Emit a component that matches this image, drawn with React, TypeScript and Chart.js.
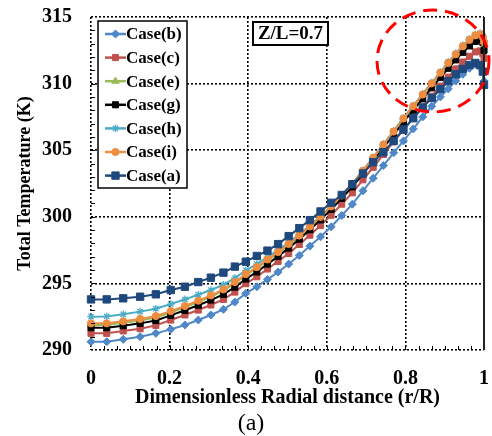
import React, { useEffect, useRef } from 'react';
import { Chart, registerables } from 'chart.js';
import { drawPoint } from 'chart.js/helpers';

Chart.register(...registerables);

// Dimensionless radial positions (r/R) of the plotted mesh points
const radialPositions = [
  0, 0.040, 0.082, 0.125, 0.165, 0.203, 0.239, 0.273, 0.305, 0.337,
  0.366, 0.394, 0.422, 0.449, 0.476, 0.503, 0.530, 0.557, 0.584, 0.611,
  0.638, 0.665, 0.692, 0.718, 0.744, 0.770, 0.795, 0.820, 0.844, 0.867,
  0.889, 0.909, 0.928, 0.946, 0.963, 0.978, 0.990, 0.997, 1.0,
];

const caseB = [
  290.62, 290.62, 290.80, 291.00, 291.25, 291.55, 291.88, 292.25, 292.63, 293.05,
  293.60, 294.25, 294.75, 295.30, 295.85, 296.45, 297.10, 297.80, 298.50, 299.25,
  300.10, 300.95, 301.95, 302.90, 303.85, 304.80, 305.70, 306.60, 307.50, 308.30,
  309.00, 309.60, 310.20, 310.70, 311.15, 311.45, 311.40, 311.00, 310.20,
];

const caseC = [
  291.25, 291.25, 291.43, 291.60, 291.85, 292.25, 292.63, 293.00, 293.38, 293.80,
  294.35, 294.98, 295.50, 296.08, 296.65, 297.25, 297.92, 298.62, 299.35, 300.12,
  300.95, 301.80, 302.78, 303.72, 304.68, 305.62, 306.52, 307.42, 308.25, 309.05,
  309.80, 310.48, 311.10, 311.62, 312.05, 312.38, 312.45, 312.25, 311.90,
];

const caseE = [
  291.88, 291.88, 292.04, 292.22, 292.44, 292.82, 293.20, 293.60, 294.00, 294.45,
  295.00, 295.60, 296.12, 296.70, 297.26, 297.86, 298.50, 299.18, 299.90, 300.68,
  301.50, 302.37, 303.35, 304.33, 305.32, 306.30, 307.28, 308.20, 309.08, 309.92,
  310.72, 311.45, 312.10, 312.70, 313.18, 313.52, 313.60, 313.38, 312.95,
];

const caseG = [
  291.67, 291.67, 291.82, 292.00, 292.22, 292.60, 292.98, 293.36, 293.75, 294.18,
  294.72, 295.33, 295.86, 296.45, 297.03, 297.65, 298.32, 299.03, 299.77, 300.55,
  301.38, 302.25, 303.23, 304.20, 305.18, 306.15, 307.10, 308.00, 308.85, 309.68,
  310.45, 311.15, 311.78, 312.35, 312.83, 313.17, 313.30, 313.10, 312.50,
];

const caseH = [
  292.50, 292.52, 292.68, 292.88, 293.10, 293.45, 293.80, 294.15, 294.50, 294.90,
  295.40, 295.98, 296.45, 296.98, 297.50, 298.07, 298.68, 299.34, 300.04, 300.80,
  301.63, 302.50, 303.48, 304.47, 305.46, 306.45, 307.43, 308.35, 309.23, 310.07,
  310.87, 311.61, 312.27, 312.87, 313.35, 313.69, 313.78, 313.60, 313.20,
];

const caseI = [
  292.00, 292.00, 292.15, 292.33, 292.55, 292.92, 293.30, 293.70, 294.10, 294.55,
  295.10, 295.70, 296.22, 296.80, 297.36, 297.96, 298.60, 299.28, 300.00, 300.78,
  301.60, 302.47, 303.45, 304.43, 305.42, 306.40, 307.38, 308.30, 309.18, 310.02,
  310.82, 311.55, 312.20, 312.80, 313.28, 313.62, 313.70, 313.50, 313.10,
];

const caseA = [
  293.80, 293.80, 293.88, 294.00, 294.18, 294.50, 294.75, 295.10, 295.43, 295.81,
  296.26, 296.63, 297.06, 297.46, 297.95, 298.55, 299.15, 299.75, 300.40, 301.05,
  301.64, 302.45, 303.25, 304.10, 304.85, 305.70, 306.55, 307.40, 308.20, 308.92,
  309.58, 310.18, 310.70, 311.10, 311.40, 311.55, 311.38, 310.90, 309.90,
];

const seriesNames = ['Case(b)', 'Case(c)', 'Case(e)', 'Case(g)', 'Case(h)', 'Case(i)', 'Case(a)'];
const seriesValues = [caseB, caseC, caseE, caseG, caseH, caseI, caseA];

const xTickLabels = ['0', '0.2', '0.4', '0.6', '0.8', '1'];
const yTickLabels = ['290', '295', '300', '305', '310', '315'];

const annotationText = 'Z/L=0.7';
const xTitle = 'Dimensionless Radial distance (r/R)';
const yTitle = 'Total Temperature (K)';
const panelLabel = '(a)';

const seriesStyles = [
  { color: '#4F87C9', pointStyle: 'rectRot', radius: 4, bw: 1 },
  { color: '#C0504D', pointStyle: 'rect', radius: 4.3, bw: 1 },
  { color: '#9BBB59', pointStyle: 'triangle', radius: 4.2, bw: 1 },
  { color: '#000000', pointStyle: 'rect', radius: 4.3, bw: 1 },
  { color: '#4BACC6', pointStyle: 'star', radius: 3.8, bw: 1.3 },
  { color: '#EE8D3F', pointStyle: 'circle', radius: 3.6, bw: 1 },
  { color: '#1F497D', pointStyle: 'rect', radius: 5.2, bw: 1 },
];

const FONT = "'Liberation Serif', 'Times New Roman', serif";

const decorPlugin = {
  id: 'decor',
  afterDraw(chart: any) {
    const { ctx, chartArea: ca, scales } = chart;
    const xs = scales.x;
    const ys = scales.y;
    ctx.save();

    // right frame (solid)
    ctx.strokeStyle = '#222';
    ctx.lineWidth = 2;
    ctx.setLineDash([]);
    ctx.beginPath();
    ctx.moveTo(ca.right, ca.top);
    ctx.lineTo(ca.right, ca.bottom);
    ctx.stroke();

    // minor ticks
    ctx.strokeStyle = '#000';
    ctx.lineWidth = 1;
    for (let k = 1; k < 30; k++) {
      const px = Math.round(xs.getPixelForValue(k / 30)) + 0.5;
      ctx.beginPath();
      ctx.moveTo(px, ca.bottom);
      ctx.lineTo(px, ca.bottom - 4);
      ctx.stroke();
    }
    for (let v = 291; v < 315; v++) {
      const py = Math.round(ys.getPixelForValue(v)) + 0.5;
      ctx.beginPath();
      ctx.moveTo(ca.left, py);
      ctx.lineTo(ca.left + 4, py);
      ctx.stroke();
    }

    // legend
    const bx = ca.left + 7;
    const by = ca.top + 4;
    const bw = 89;
    const bh = 167;
    ctx.fillStyle = '#fff';
    ctx.fillRect(bx, by, bw, bh);
    ctx.strokeStyle = '#000';
    ctx.lineWidth = 1.5;
    ctx.strokeRect(bx, by, bw, bh);
    ctx.font = `bold 17px ${FONT}`;
    ctx.textBaseline = 'middle';
    ctx.textAlign = 'left';
    chart.data.datasets.forEach((ds: any, i: number) => {
      const st = seriesStyles[i];
      const cy = by + 13 + i * 23.6;
      ctx.strokeStyle = st.color;
      ctx.lineWidth = 2.5;
      ctx.beginPath();
      ctx.moveTo(bx + 7, cy);
      ctx.lineTo(bx + 28, cy);
      ctx.stroke();
      ctx.fillStyle = st.color;
      ctx.strokeStyle = st.color;
      ctx.lineWidth = st.bw;
      drawPoint(ctx, { pointStyle: st.pointStyle, radius: st.radius, rotation: 0, borderWidth: st.bw }, bx + 17.5, cy);
      ctx.fillStyle = '#000';
      ctx.fillText(ds.label, bx + 28, cy + 1);
    });

    // Z/L annotation box
    const zx = ca.left + 162;
    const zy = ca.top + 5;
    ctx.fillStyle = '#fff';
    ctx.fillRect(zx, zy, 75, 23);
    ctx.strokeStyle = '#000';
    ctx.lineWidth = 2;
    ctx.strokeRect(zx, zy, 75, 23);
    ctx.fillStyle = '#000';
    ctx.font = `bold 19px ${FONT}`;
    ctx.textAlign = 'center';
    ctx.fillText(annotationText, zx + 37.5, zy + 12.5);

    // red dashed ellipse highlighting wall region
    ctx.strokeStyle = '#FF0000';
    ctx.lineWidth = 3;
    ctx.setLineDash([14, 8]);
    ctx.beginPath();
    ctx.ellipse(ca.right - 51, ca.top + 44, 56, 51, 0, 0, Math.PI * 2);
    ctx.stroke();

    ctx.restore();
  },
};

export default function App() {
  const canvasRef = useRef<HTMLCanvasElement | null>(null);

  useEffect(() => {
    const canvas = canvasRef.current;
    if (!canvas) return;
    const datasets = seriesNames.map((name, i) => {
      const st = seriesStyles[i];
      return {
        label: name,
        data: radialPositions.map((r, j) => ({ x: r, y: seriesValues[i][j] })),
        borderColor: st.color,
        backgroundColor: st.color,
        borderWidth: 2,
        pointStyle: st.pointStyle,
        pointRadius: st.radius,
        pointBorderWidth: st.bw,
        pointBackgroundColor: st.color,
        pointBorderColor: st.color,
        tension: 0,
        clip: false,
        order: seriesNames.length - i,
      };
    });

    const chart = new Chart(canvas, {
      type: 'line',
      data: { datasets },
      plugins: [decorPlugin],
      options: {
        responsive: false,
        animation: false,
        devicePixelRatio: 1,
        layout: { autoPadding: false, padding: { left: 18, top: 17, right: 8, bottom: 0 } },
        plugins: {
          legend: { display: false },
          tooltip: { enabled: false },
          title: {
            display: true,
            position: 'bottom',
            text: panelLabel,
            color: '#000',
            font: { family: FONT, size: 24, weight: 'normal', lineHeight: 1 },
            padding: { top: 4, bottom: 0 },
          },
        },
        scales: {
          x: {
            type: 'linear',
            min: 0,
            max: 1,
            afterFit: (s: any) => {
              s.height = 58;
              s.paddingLeft = 4;
              s.paddingRight = 4;
            },
            ticks: {
              stepSize: 0.2,
              color: '#000',
              padding: 17,
              font: { family: FONT, size: 20, weight: 'bold' },
              callback: (_v: any, idx: number) => xTickLabels[idx],
              maxRotation: 0,
            },
            grid: { color: '#000', lineWidth: 1.6, drawTicks: false },
            border: { display: false, dash: [2, 2] },
            title: {
              display: true,
              text: xTitle,
              color: '#000',
              font: { family: FONT, size: 20, weight: 'bold', lineHeight: 1 },
              padding: { top: 0, bottom: 0 },
            },
          },
          y: {
            type: 'linear',
            min: 290,
            max: 315,
            afterFit: (s: any) => {
              s.width = 73;
              s.paddingTop = 8;
              s.paddingBottom = 8;
            },
            ticks: {
              stepSize: 5,
              color: '#000',
              padding: 19,
              font: { family: FONT, size: 20, weight: 'bold' },
              callback: (_v: any, idx: number) => yTickLabels[idx],
            },
            grid: { color: '#000', lineWidth: 1.6, drawTicks: false },
            border: { display: false, dash: [2, 2] },
            title: {
              display: true,
              text: yTitle,
              color: '#000',
              font: { family: FONT, size: 18, weight: 'bold', lineHeight: 1 },
              padding: { top: -2, bottom: 0 },
            },
          },
        },
      },
    } as any);
    return () => chart.destroy();
  }, []);

  return (
    <div style={{ position: 'absolute', left: 0, top: 0, width: 492, height: 436, background: '#fff' }}>
      <canvas ref={canvasRef} width={492} height={436} style={{ display: 'block', width: 492, height: 436 }} />
    </div>
  );
}
